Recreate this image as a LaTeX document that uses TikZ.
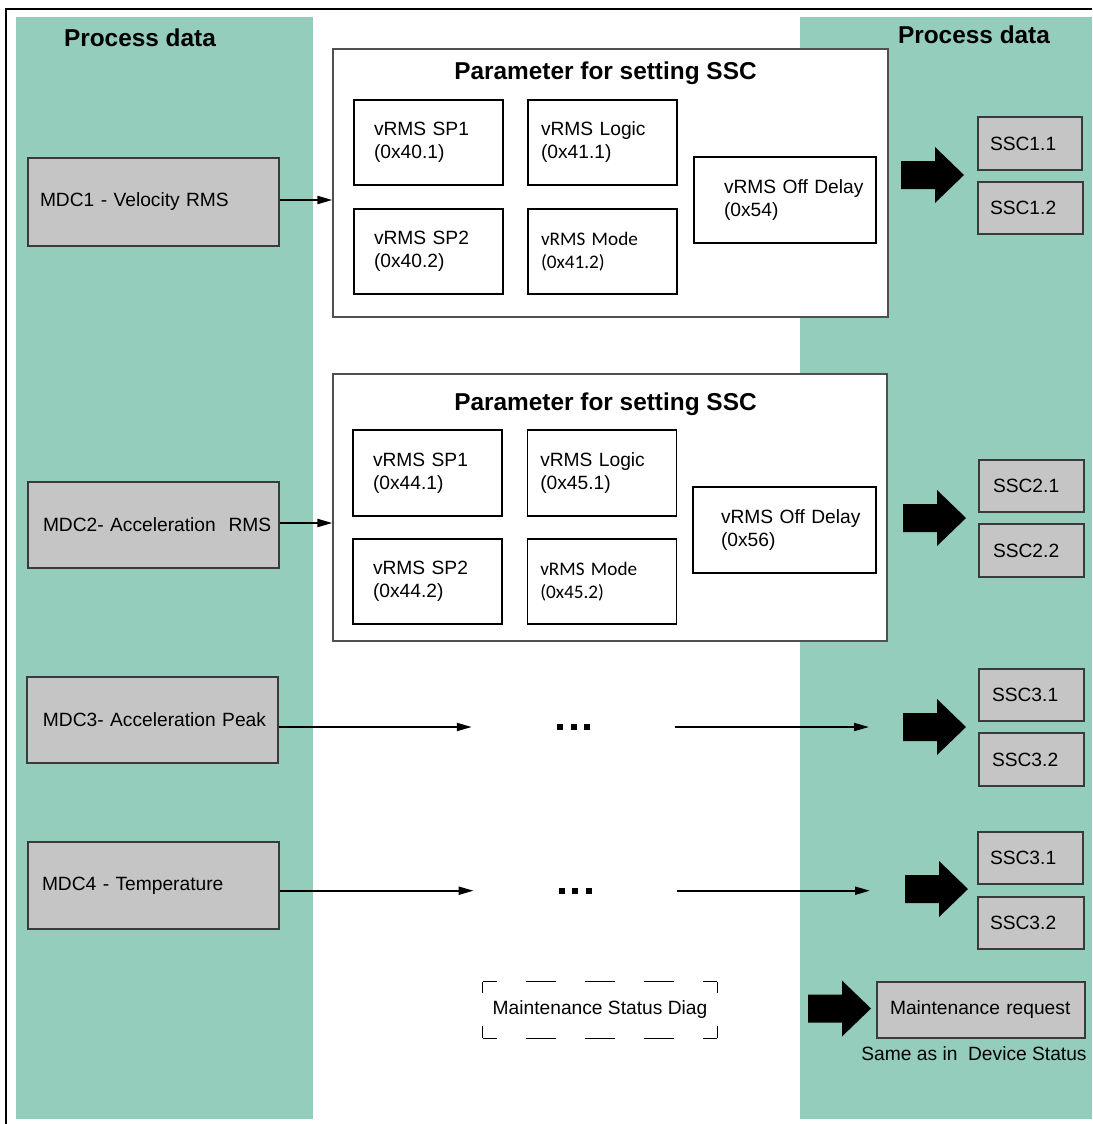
\documentclass[tikz,border=0pt]{standalone}
\usepackage{fontspec}
\setmainfont{Liberation Sans}
\newfontfamily\calib{Carlito}
\usetikzlibrary{arrows.meta}
\definecolor{panel}{RGB}{149,205,188}
\definecolor{boxgray}{RGB}{196,197,196}
\definecolor{edgegray}{RGB}{58,58,58}
\definecolor{pedge}{RGB}{80,80,80}
\newcommand\ind[1]{\hspace*{#1pt}}
\newcommand\sqdots{\rule{6pt}{6pt}\hspace{7.8pt}\rule{6pt}{6pt}\hspace{7.8pt}\rule{6pt}{6pt}}
\tikzset{
  every node/.style={font=\fontsize{19.2}{23}\selectfont},
  titletext/.style={font=\fontsize{24.4}{28}\selectfont\bfseries, inner sep=0pt, anchor=base},
  graybox/.style n args={3}{draw=edgegray, fill=boxgray, line width=1.2pt,
     text width=#1, minimum height=#2, inner xsep=0pt, inner ysep=0pt, align=left},
  wbox/.style n args={2}{draw=black, fill=white, line width=1.2pt,
     text width=#1, minimum height=#2, inner xsep=0pt, inner ysep=0pt, align=left},
  pbox/.style={draw=pedge, fill=white, line width=1.2pt, inner sep=0pt},
  dotsnode/.style={minimum width=#1, inner sep=0pt},
  link/.style={line width=2pt, -{Triangle[length=15pt,width=8pt]}},
  hdash/.style={line width=1.2pt, dash pattern=on 30pt off 29pt, dash phase=16pt},
  vdash/.style={line width=1.2pt, dash pattern=on 11.5pt off 33pt},
  bigarrow/.pic={\fill[black] (0,0) -- (-29,-28) -- (-29,-14) -- (-63,-14) -- (-63,14) -- (-29,14) -- (-29,28) -- cycle;}
}
\begin{document}
\begin{tikzpicture}[x=1pt,y=-1pt]
\useasboundingbox (0,0) rectangle (1092,1124);
\fill[white] (0,0) rectangle (1092,1124);
% panels
\fill[panel] (16,17) rectangle (313,1119);
\fill[panel] (800,17) rectangle (1092,1119);
\draw[line width=1.5pt] (6,1124) -- (6,9) -- (1092,9);

\node[titletext] (pdl) at (140,47) {Process data};
\node[titletext] (pdr) at (974,43.5) {Process data};

% MDC boxes
\node[graybox={251pt}{88pt}] (mdc1) at (153.5,202) {\ind{12}MDC1 - Velocity RMS};
\node[graybox={251pt}{86pt}] (mdc2) at (153.5,525) {\ind{15}MDC2- Acceleration\ \ RMS};
\node[graybox={251pt}{86pt}] (mdc3) at (152.5,720) {\ind{16}MDC3- Acceleration Peak};
\node[graybox={251pt}{87pt}] (mdc4) at (153.5,885.5) {\ind{14}MDC4 - Temperature};

% parameter box 1
\node[pbox, minimum width=555pt, minimum height=268pt] (p1) at (610.5,183) {};
\node[titletext] (t1) at (605.5,79.5) {Parameter for setting SSC};
\node[wbox={149pt}{85pt}] (sp1a) at (428.5,142.5) {\ind{20}vRMS SP1\\\ind{20}(0x40.1)};
\node[wbox={149pt}{85pt}] (lg1a) at (602.5,142.5) {\ind{13}vRMS Logic\\\ind{13}(0x41.1)};
\node[wbox={149pt}{85pt}] (sp2a) at (428.5,251.5) {\ind{20}vRMS SP2\\\ind{20}(0x40.2)};
\node[wbox={149pt}{85pt}] (md1a) at (602.5,251.5) {\calib\ind{13}vRMS Mode\\\ind{13}(0x41.2)};
\node[wbox={182pt}{86pt}] (off1) at (785,200) {\ind{30}vRMS Off Delay\\\ind{30}(0x54)};

% parameter box 2
\node[pbox, minimum width=554pt, minimum height=267pt] (p2) at (610,507.5) {};
\node[titletext] (t2) at (605.5,410.5) {Parameter for setting SSC};
\node[wbox={149pt}{86pt}] (sp1b) at (427.5,473) {\ind{20}vRMS SP1\\\ind{20}(0x44.1)};
\node[wbox={149pt}{86pt}] (lg1b) at (601.75,473) {\ind{13}vRMS Logic\\\ind{13}(0x45.1)};
\node[wbox={149pt}{85pt}] (sp2b) at (427.5,581.5) {\ind{20}vRMS SP2\\\ind{20}(0x44.2)};
\node[wbox={149pt}{85pt}] (md1b) at (601.75,581.5) {\calib\ind{13}vRMS Mode\\\ind{13}(0x45.2)};
\node[wbox={183pt}{86pt}] (off2) at (784.5,530) {\ind{28}vRMS Off Delay\\\ind{28}(0x56)};

% ellipsis nodes
\node[dotsnode=203pt] (e3) at (573.5,727) {\sqdots};
\node[dotsnode=203pt] (e4) at (575.3,890.7) {\sqdots};
\coordinate (t3) at (869,727);
\coordinate (t4) at (870,890.7);

% SSC boxes
\node[graybox={104pt}{53pt}] (s11) at (1030,143.5) {\ind{12}SSC1.1};
\node[graybox={105pt}{52pt}] (s12) at (1030.5,208) {\ind{12}SSC1.2};
\node[graybox={105pt}{52pt}] (s21) at (1031.5,486) {\ind{14}SSC2.1};
\node[graybox={105pt}{53pt}] (s22) at (1031.5,550.5) {\ind{14}SSC2.2};
\node[graybox={105pt}{52pt}] (s31) at (1031.5,695) {\ind{13}SSC3.1};
\node[graybox={105pt}{53pt}] (s32) at (1031.5,759.5) {\ind{13}SSC3.2};
\node[graybox={105pt}{52pt}] (s41) at (1030.5,858) {\ind{12}SSC3.1};
\node[graybox={106pt}{52pt}] (s42) at (1031,923) {\ind{12}SSC3.2};
\node[graybox={208pt}{56pt}] (mreq) at (981,1010) {\ind{13}Maintenance request};
\node[anchor=base, inner sep=0pt] (same) at (974,1060) {Same as in\ \ Device Status};

% maintenance status diag (dashed)
\node[minimum width=234pt, minimum height=56pt, inner sep=0pt] (msd) at (600,1010) {Maintenance Status Diag};
\draw[hdash] (msd.north west) -- (msd.north east);
\draw[hdash] (msd.south west) -- (msd.south east);
\draw[vdash] (msd.north west) -- (msd.south west);
\draw[vdash] (msd.north east) -- (msd.south east);

% connectors
\draw[link] ([yshift=2pt]mdc1.east) -- ([yshift=2pt]mdc1.east -| p1.west);
\draw[link] ([yshift=2pt]mdc2.east) -- ([yshift=2pt]mdc2.east -| p2.west);
\draw[link] (mdc3.east |- e3.west) -- (e3.west);
\draw[link] (e3.east) -- (t3);
\draw[link] (mdc4.east |- e4.west) -- (e4.west);
\draw[link] (e4.east) -- (t4);

% block arrows
\pic at (964,175) {bigarrow};
\pic at (966,518) {bigarrow};
\pic at (966,727) {bigarrow};
\pic at (968,889) {bigarrow};
\pic at (871,1008.5) {bigarrow};
\end{tikzpicture}
\end{document}
